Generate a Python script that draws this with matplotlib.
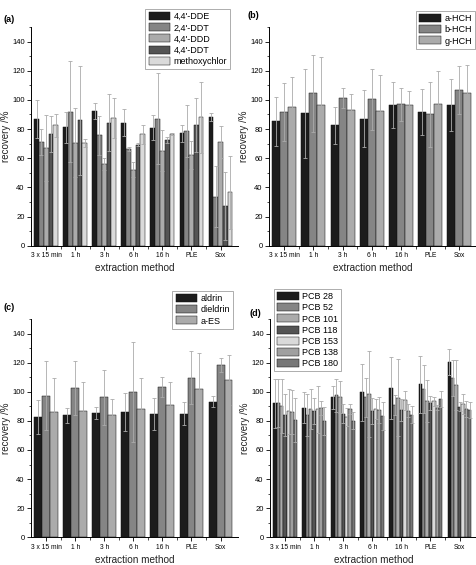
import matplotlib.pyplot as plt
from matplotlib.ticker import MultipleLocator
import numpy as np

plt.rcParams['font.family'] = ['Liberation Sans', 'DejaVu Sans']

methods = ['3 x 15 min', '1 h', '3 h', '6 h', '16 h', 'PLE', 'Sox']

# (a) DDT group
a_names = ["4,4'-DDE", "2,4'-DDT", "4,4'-DDD", "4,4'-DDT", 'methoxychlor']
dde = [87.0, 81.2, 92.2, 84.4, 81.0, 77.1, 88.1]
dde_err = [13.2, 10.8, 5.5, 9.2, 8.7, 6.0, 2.7]
ddt24 = [71.2, 91.8, 75.7, 66.1, 87.0, 78.7, 33.6]
ddt24_err = [9.0, 34.7, 13.5, 1.4, 31.3, 17.6, 21.0]
ddd44 = [67.0, 70.7, 56.0, 52.2, 65.2, 62.2, 71.2]
ddd44_err = [22.7, 23.6, 4.0, 5.0, 14.2, 9.4, 11.0]
ddt44 = [76.7, 86.0, 84.4, 69.3, 72.5, 82.8, 27.2]
ddt44_err = [12.5, 37.3, 19.7, 1.2, 2.1, 18.3, 23.4]
methoxy = [82.6, 70.5, 87.6, 76.4, 76.4, 88.1, 36.6]
methoxy_err = [8.0, 2.7, 14.0, 6.7, 0.7, 24.3, 25.0]

# (b) HCH isomers
b_names = ['a-HCH', 'b-HCH', 'g-HCH']
a_hch = [85.2, 90.8, 82.5, 87.2, 96.3, 91.7, 96.2]
a_hch_err = [16.8, 30.4, 12.5, 19.6, 15.7, 16.0, 17.8]
b_hch = [91.5, 104.5, 101.5, 100.4, 97.0, 90.2, 106.8]
b_hch_err = [20.0, 26.3, 6.9, 21.1, 11.5, 22.4, 16.2]
g_hch = [95.4, 96.5, 93.0, 92.2, 96.5, 97.0, 104.7]
g_hch_err = [20.4, 33.0, 11.0, 24.8, 9.8, 23.0, 19.5]

# (c) drins
c_names = ['aldrin', 'dieldrin', 'a-ES']
aldrin = [82.5, 83.8, 85.4, 86.1, 84.7, 84.9, 93.2]
aldrin_err = [11.5, 5.0, 4.1, 12.8, 10.7, 8.0, 3.6]
dieldrin = [97.3, 102.4, 96.2, 99.8, 103.4, 109.6, 118.3]
dieldrin_err = [23.7, 18.4, 19.1, 34.1, 6.9, 18.1, 4.6]
a_es = [85.8, 87.0, 83.8, 88.3, 91.0, 101.7, 108.0]
a_es_err = [24.0, 19.4, 11.2, 20.9, 15.6, 24.6, 17.2]

# (d) PCBs
d_names = ['PCB 28', 'PCB 52', 'PCB 101', 'PCB 118', 'PCB 153', 'PCB 138', 'PCB 180']
pcb28 = [92.0, 88.9, 96.2, 99.6, 102.6, 105.0, 120.5]
pcb28_err = [16.7, 10.6, 7.9, 19.6, 21.2, 19.9, 8.8]
pcb52 = [92.3, 84.0, 97.5, 96.1, 90.6, 101.8, 109.6]
pcb52_err = [16.4, 14.4, 11.2, 13.7, 6.9, 16.7, 12.4]
pcb101 = [90.2, 88.1, 96.4, 98.5, 95.9, 93.8, 104.7]
pcb101_err = [18.3, 13.5, 11.2, 29.6, 26.5, 14.4, 17.0]
pcb118 = [84.0, 86.5, 85.0, 86.7, 87.6, 92.4, 89.8]
pcb118_err = [14.4, 8.9, 6.5, 8.7, 7.6, 4.6, 3.1]
pcb153 = [86.5, 88.0, 82.6, 88.3, 94.2, 93.4, 91.7]
pcb153_err = [15.3, 16.3, 6.0, 6.7, 6.5, 3.2, 6.7]
pcb138 = [86.0, 88.9, 88.0, 87.4, 87.1, 89.0, 88.3]
pcb138_err = [15.0, 4.9, 3.3, 8.7, 4.4, 1.6, 5.5]
pcb180 = [80.5, 80.0, 80.0, 83.5, 84.2, 95.0, 87.3]
pcb180_err = [15.2, 9.7, 5.8, 9.6, 6.0, 5.5, 5.4]

grays = ['#1c1c1c', '#858585', '#ababab', '#545454', '#dadada', '#a0a0a0', '#777777']

W, H = 477, 565
fig = plt.figure(figsize=(W / 100, H / 100), dpi=100)


def fx(px):
    return px / W


def fy(px):
    return 1 - px / H


def panel(left_px, top_px, bottom_px, width_px, series, errors, names,
          label, label_xy, leg_xy, leg_loc):
    ax = fig.add_axes([fx(left_px), fy(bottom_px), width_px / W,
                       (bottom_px - top_px) / H])
    n = len(series)
    x = np.arange(len(methods))
    group_w = 0.82
    bw = group_w / n
    for i, vals in enumerate(series):
        pos = x - group_w / 2 + bw * (i + 0.5)
        ax.bar(pos, vals, width=bw, color=grays[i], edgecolor='#111111',
               linewidth=0.35, label=names[i], zorder=2)
    for i, (vals, err) in enumerate(zip(series, errors)):
        pos = x - group_w / 2 + bw * (i + 0.5)
        ax.errorbar(pos, vals, yerr=err, fmt='none', ecolor='#ababab',
                    elinewidth=0.6, capsize=1.3, capthick=0.6, zorder=3)
    ax.set_xlim(-0.52, 6.6)
    ax.set_ylim(0, 150)
    ax.yaxis.set_minor_locator(MultipleLocator(10))
    ax.set_yticks(np.arange(0, 141, 20))
    ax.set_xticks(x)
    ax.set_xticklabels(methods)
    ax.set_xticks(x[:-1] + 0.5, minor=True)
    for s in ['top', 'right']:
        ax.spines[s].set_visible(False)
    for s in ['left', 'bottom']:
        ax.spines[s].set_linewidth(0.7)
    ax.tick_params(which='major', direction='out', length=3, width=0.6, pad=1.5)
    ax.tick_params(axis='x', which='major', labelsize=4.8)
    ax.tick_params(axis='y', which='major', labelsize=5.5)
    ax.tick_params(which='minor', direction='out', length=1.8, width=0.5)
    ax.set_xlabel('extraction method', fontsize=7.2, labelpad=3, color='#222222')
    ax.set_ylabel('recovery /%', fontsize=7, labelpad=1, color='#222222')
    fig.text(fx(label_xy[0]), fy(label_xy[1]), label, fontsize=6.5,
             fontweight='bold', ha='left', va='center')
    leg = ax.legend(loc=leg_loc, bbox_to_anchor=(fx(leg_xy[0]), fy(leg_xy[1])),
                    bbox_transform=fig.transFigure, fontsize=6.5,
                    frameon=True, fancybox=False, borderaxespad=0,
                    handlelength=2.4, handleheight=1.0, handletextpad=0.35,
                    labelspacing=0.22, borderpad=0.35)
    leg.get_frame().set_edgecolor('#888888')
    leg.get_frame().set_linewidth(0.6)
    return ax


panel(31, 27, 245.7, 207,
      [dde, ddt24, ddd44, ddt44, methoxy],
      [dde_err, ddt24_err, ddd44_err, ddt44_err, methoxy_err],
      a_names, '(a)', (4, 20), (230, 9), 'upper right')
panel(269, 27, 245.7, 208,
      [a_hch, b_hch, g_hch],
      [a_hch_err, b_hch_err, g_hch_err],
      b_names, '(b)', (248, 15), (475, 11), 'upper right')
panel(31, 319, 537.3, 207,
      [aldrin, dieldrin, a_es],
      [aldrin_err, dieldrin_err, a_es_err],
      c_names, '(c)', (3, 307), (233, 291), 'upper right')
panel(270, 319, 537.3, 207,
      [pcb28, pcb52, pcb101, pcb118, pcb153, pcb138, pcb180],
      [pcb28_err, pcb52_err, pcb101_err, pcb118_err, pcb153_err, pcb138_err,
       pcb180_err],
      d_names, '(d)', (250, 314), (274, 289), 'upper left')

fig.savefig('out.png', dpi=100)
